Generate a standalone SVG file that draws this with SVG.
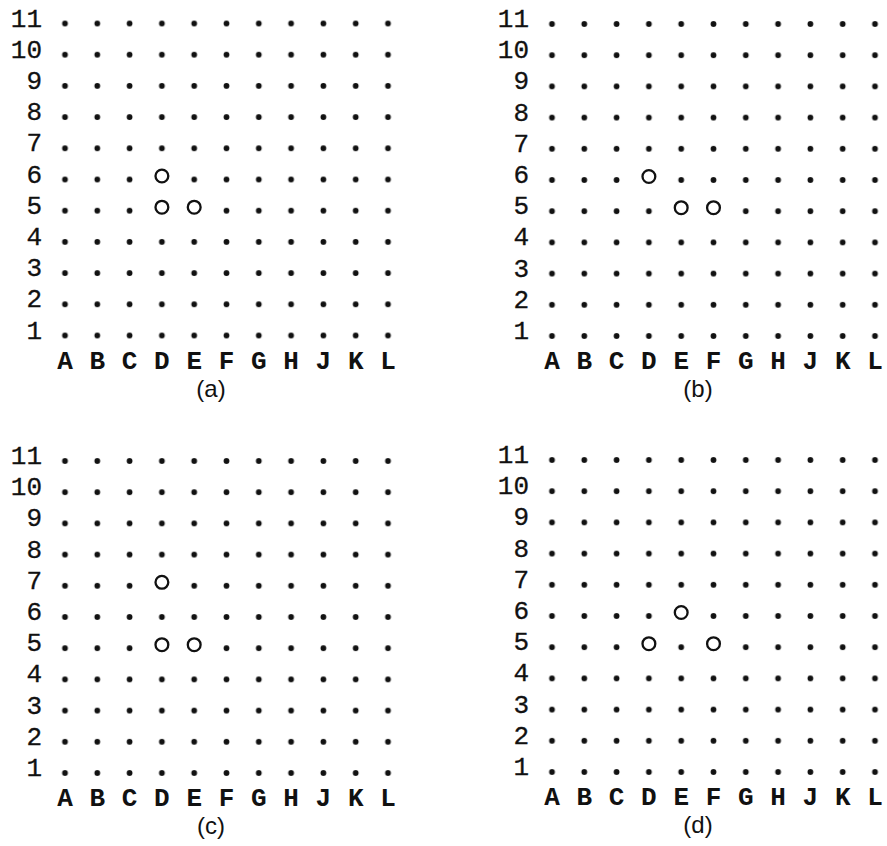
<svg xmlns="http://www.w3.org/2000/svg" xmlns:xlink="http://www.w3.org/1999/xlink" width="887" height="846" viewBox="0 0 887 846">
<style>
.num{font-family:"Liberation Mono","DejaVu Sans Mono",monospace;font-size:26px;fill:#111;text-anchor:end;stroke:#111;stroke-width:0.3}
.col{font-family:"Liberation Mono","DejaVu Sans Mono",monospace;font-size:26px;font-weight:bold;fill:#111;text-anchor:middle}
.cap{font-family:"Liberation Sans",Arial,sans-serif;font-size:24px;fill:#111;text-anchor:middle}
.ring{fill:#fff;stroke:#111;stroke-width:2.3}
</style>
<defs>
<pattern id="dots" patternUnits="userSpaceOnUse" x="-16.15" y="-15.6" width="32.3" height="31.2">
<circle cx="16.15" cy="15.6" r="2.9" fill="#111"/>
</pattern>
<g id="base">
<rect x="-16.15" y="-15.6" width="355.3" height="343.2" fill="url(#dots)"/>
<text class="num" x="-23" y="3">11</text>
<text class="num" x="-23" y="34.2">10</text>
<text class="num" x="-23" y="65.4">9</text>
<text class="num" x="-23" y="96.6">8</text>
<text class="num" x="-23" y="127.8">7</text>
<text class="num" x="-23" y="159">6</text>
<text class="num" x="-23" y="190.2">5</text>
<text class="num" x="-23" y="221.4">4</text>
<text class="num" x="-23" y="252.6">3</text>
<text class="num" x="-23" y="283.8">2</text>
<text class="num" x="-23" y="315">1</text>
<text class="col" x="0" y="345">A</text>
<text class="col" x="32.3" y="345">B</text>
<text class="col" x="64.6" y="345">C</text>
<text class="col" x="96.9" y="345">D</text>
<text class="col" x="129.2" y="345">E</text>
<text class="col" x="161.5" y="345">F</text>
<text class="col" x="193.8" y="345">G</text>
<text class="col" x="226.1" y="345">H</text>
<text class="col" x="258.4" y="345">J</text>
<text class="col" x="290.7" y="345">K</text>
<text class="col" x="323" y="345">L</text>
</g>
</defs>
<g id="panel-a" transform="translate(65,23.5)">
<use xlink:href="#base" href="#base"/>
<circle class="ring" cx="96.9" cy="152.5" r="6.4"/>
<circle class="ring" cx="96.9" cy="183.7" r="6.4"/>
<circle class="ring" cx="129.2" cy="183.7" r="6.4"/>
<text class="cap" x="146" y="373">(a)</text>
</g>
<g id="panel-b" transform="translate(552,24)">
<use xlink:href="#base" href="#base"/>
<circle class="ring" cx="96.9" cy="152.5" r="6.4"/>
<circle class="ring" cx="129.2" cy="183.7" r="6.4"/>
<circle class="ring" cx="161.5" cy="183.7" r="6.4"/>
<text class="cap" x="146" y="373">(b)</text>
</g>
<g id="panel-c" transform="translate(65,461)">
<use xlink:href="#base" href="#base"/>
<circle class="ring" cx="96.9" cy="121.3" r="6.4"/>
<circle class="ring" cx="96.9" cy="183.7" r="6.4"/>
<circle class="ring" cx="129.2" cy="183.7" r="6.4"/>
<text class="cap" x="146" y="373">(c)</text>
</g>
<g id="panel-d" transform="translate(552,460)">
<use xlink:href="#base" href="#base"/>
<circle class="ring" cx="129.2" cy="152.5" r="6.4"/>
<circle class="ring" cx="96.9" cy="183.7" r="6.4"/>
<circle class="ring" cx="161.5" cy="183.7" r="6.4"/>
<text class="cap" x="146" y="373">(d)</text>
</g>
<g id="connectors"/>
</svg>
